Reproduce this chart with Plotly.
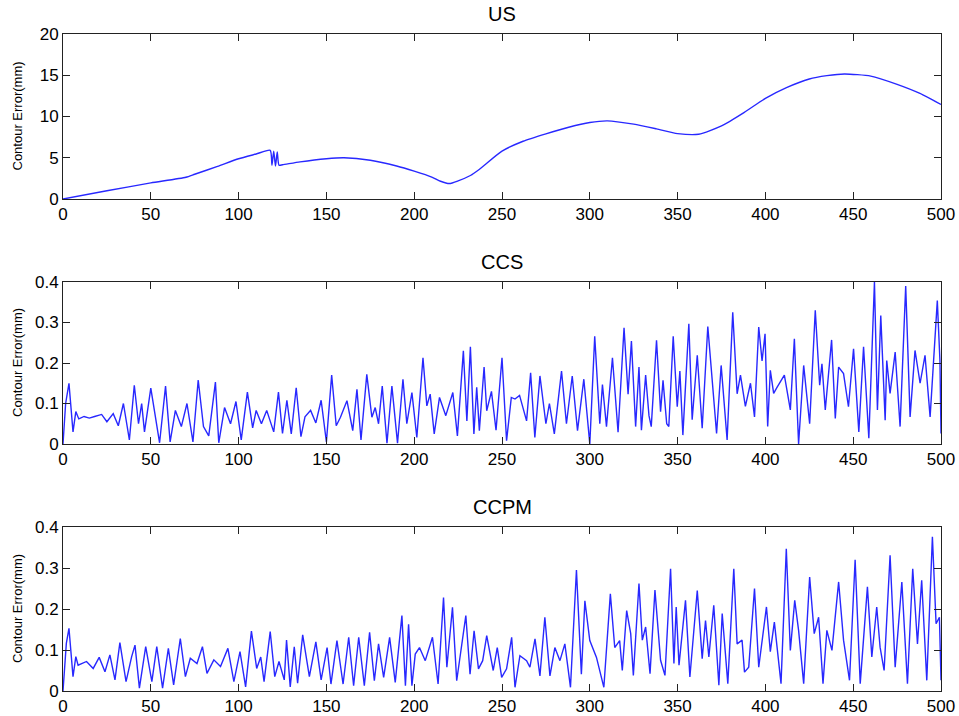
import plotly.graph_objects as go

# ---- US: contour error without compensation ----
us_x = [0, 25, 50, 70, 75, 88, 100, 110, 118, 119, 120, 121, 122, 123, 125, 135, 150, 160,
        175, 190, 200, 210, 215, 220, 225, 232, 237, 250, 262, 275, 288, 300, 310, 325, 338,
        350, 362, 375, 388, 400, 412, 425, 435, 445, 460, 475, 488, 500]
us_y = [0, 1.0, 1.95, 2.64, 3.0, 3.95, 4.88, 5.45, 5.9, 4.1, 5.8, 4.0, 5.7, 4.1, 4.15, 4.5,
        4.88, 5.0, 4.7, 4.0, 3.37, 2.65, 2.15, 1.87, 2.2, 2.85, 3.58, 5.8, 7.0, 7.9, 8.7, 9.27,
        9.47, 9.07, 8.5, 7.93, 7.85, 8.86, 10.5, 12.2, 13.5, 14.55, 14.95, 15.16, 14.9, 13.9,
        12.8, 11.46]

# ---- CCS: cross-coupled control ----
ccs_x = [0, 1.5, 3.4, 5.7, 7.3, 9, 12, 15, 18, 22, 25, 28.6, 31.5, 34.4, 37.8, 40.6, 43, 44.8,
         46.4, 50, 55, 58.4, 61, 64, 67.4, 70.6, 74, 77, 80, 83, 86.8, 88.7, 92, 95.4, 98.5,
         101.5, 105, 108, 110, 113, 116, 120, 122.7, 125, 127.5, 130, 132.8, 135.5, 137.8, 141,
         144, 147, 150, 153, 155.6, 158, 161.7, 165, 167.4, 169.7, 173, 175.9, 177.8, 179.7,
         181.8, 184.5, 187.3, 190.5, 193.6, 195.8, 198.7, 201.5, 205, 207.2, 209.1, 211.4,
         214.4, 218, 222, 224.6, 228, 230, 232, 234, 235.6, 237.1, 239.8, 241.3, 244, 246.6,
         250, 252.6, 255.3, 257.4, 260, 264, 266.3, 268.7, 271.6, 275, 277, 279.8, 283.9,
         286.7, 290, 293, 296.6, 300, 302.8, 305.7, 307.2, 309.5, 312.9, 316.1, 319.5, 321.8,
         323.7, 326.1, 328, 329.4, 331.8, 333.7, 335, 338, 340.3, 341.7, 343.8, 345, 347.5,
         349.8, 351.3, 353, 356.4, 358.3, 361.2, 364, 367.2, 368.8, 370.6, 372.2, 374.8,
         378.2, 381.4, 383.9, 385.8, 388.6, 391.5, 393.8, 396.2, 398.1, 399.8, 401.3, 402.8,
         404.7, 406.6, 410.8, 414.2, 416.5, 418.9, 421.8, 425.2, 428.4, 430.9, 432.2, 434.1,
         437.7, 439.8, 441.7, 444.5, 447.3, 450.2, 453.2, 455.9, 458.9, 462.1, 463.8, 465.7,
         468.2, 469.1, 471, 473.9, 476.7, 479.9, 482.4, 485.2, 488.1, 490.9, 493.8, 497.9,
         499.4, 500]
ccs_y = [0, 0.1, 0.15, 0.03, 0.08, 0.062, 0.068, 0.064, 0.068, 0.073, 0.055, 0.075, 0.045,
         0.1, 0.01, 0.145, 0.05, 0.1, 0.03, 0.138, 0.003, 0.143, 0.005, 0.083, 0.043, 0.1,
         0.005, 0.158, 0.043, 0.02, 0.153, 0.003, 0.09, 0.05, 0.105, 0.01, 0.128, 0.04, 0.083,
         0.05, 0.083, 0.03, 0.128, 0.026, 0.108, 0.025, 0.139, 0.018, 0.067, 0.083, 0.052,
         0.108, 0.005, 0.17, 0.045, 0.066, 0.107, 0.033, 0.135, 0.01, 0.172, 0.066, 0.09, 0.05,
         0.143, 0.002, 0.143, 0.002, 0.16, 0.05, 0.127, 0.016, 0.213, 0.094, 0.123, 0.025,
         0.115, 0.07, 0.127, 0.02, 0.23, 0.057, 0.24, 0.025, 0.14, 0.033, 0.19, 0.082, 0.13,
         0.034, 0.213, 0.008, 0.115, 0.111, 0.12, 0.057, 0.176, 0.016, 0.168, 0.05, 0.1, 0.025,
         0.18, 0.05, 0.168, 0.033, 0.16, 0.0, 0.266, 0.05, 0.147, 0.043, 0.213, 0.029, 0.287,
         0.123, 0.254, 0.043, 0.19, 0.034, 0.17, 0.07, 0.043, 0.256, 0.08, 0.157, 0.05, 0.043,
         0.266, 0.092, 0.18, 0.022, 0.297, 0.06, 0.219, 0.039, 0.29, 0.207, 0.128, 0.026,
         0.194, 0.01, 0.325, 0.124, 0.17, 0.093, 0.15, 0.067, 0.289, 0.205, 0.272, 0.043,
         0.182, 0.125, 0.14, 0.17, 0.084, 0.26, 0.0, 0.194, 0.05, 0.33, 0.145, 0.198, 0.084,
         0.257, 0.063, 0.19, 0.174, 0.092, 0.235, 0.03, 0.24, 0.014, 0.4, 0.084, 0.317, 0.059,
         0.206, 0.125, 0.227, 0.043, 0.39, 0.067, 0.231, 0.15, 0.219, 0.067, 0.354, 0.205,
         0.026]

# ---- CCPM: cross-coupled pre-compensation method ----
ccpm_x = [0, 1.9, 3.4, 5.7, 7.3, 8.6, 13.4, 17.2, 20.6, 23.9, 26.7, 29.6, 32.4, 35.9, 39.1,
          41, 43.5, 47.1, 50.6, 53.4, 56.7, 60, 63, 66.8, 69.7, 72.5, 76.3, 79.4, 82, 85.9,
          89.7, 93.9, 97.3, 100.8, 104, 107.3, 110.3, 112.6, 114.5, 118, 120.6, 123, 126,
          127.3, 129.4, 131.7, 133.6, 136.5, 140.3, 144, 147, 150.4, 152.6, 156, 159.5, 162.7,
          165.5, 168.4, 171.6, 174.6, 177.3, 179.7, 182.6, 186, 189.2, 193, 195, 196.8, 198.7,
          200.6, 203, 206.3, 210.4, 213.6, 216.7, 218.6, 221.8, 224.2, 229.4, 231.8, 234.1,
          236.6, 239, 241.3, 245, 247.3, 249.8, 252.6, 255.5, 257.4, 260.2, 264, 265.9, 268.8,
          271.6, 274.4, 277.3, 280.1, 283, 285.8, 289, 292.4, 295.2, 297.2, 300, 303.8, 308,
          311.7, 314.2, 317, 318.5, 321, 323.3, 324.8, 328, 329.9, 331.8, 334.3, 337.1, 340.3,
          342.8, 346, 347.9, 349.2, 350.8, 354.5, 357, 361.2, 364, 365.9, 367.8, 370.6, 373.5,
          375.4, 378.6, 382, 383.9, 386.7, 388.1, 390.5, 393.8, 396.2, 400.6, 402.8, 405.1,
          408.9, 411.9, 414.2, 416.7, 418.9, 421.8, 425.2, 427.8, 430.3, 432.8, 435, 437.9,
          441.7, 444.5, 447.9, 451.1, 454, 458.1, 460.6, 463.4, 465.3, 467.6, 471, 473.9,
          477.7, 480.9, 483.9, 486.6, 489, 491.9, 495.1, 497.2, 499.1, 500]
ccpm_y = [0, 0.116, 0.153, 0.035, 0.084, 0.063, 0.072, 0.055, 0.082, 0.047, 0.088, 0.027,
          0.118, 0.023, 0.084, 0.112, 0.007, 0.108, 0.023, 0.108, 0.007, 0.104, 0.015, 0.128,
          0.035, 0.08, 0.067, 0.108, 0.043, 0.076, 0.06, 0.104, 0.023, 0.096, 0.01, 0.146,
          0.055, 0.083, 0.023, 0.145, 0.035, 0.072, 0.027, 0.124, 0.01, 0.108, 0.019, 0.137,
          0.035, 0.12, 0.027, 0.106, 0.017, 0.123, 0.017, 0.131, 0.013, 0.131, 0.013, 0.143,
          0.025, 0.115, 0.033, 0.131, 0.021, 0.184, 0.013, 0.163, 0.013, 0.09, 0.106, 0.074,
          0.131, 0.017, 0.228, 0.058, 0.204, 0.025, 0.184, 0.041, 0.147, 0.054, 0.074, 0.135,
          0.05, 0.106, 0.033, 0.054, 0.131, 0.009, 0.086, 0.074, 0.058, 0.127, 0.037, 0.18,
          0.037, 0.106, 0.074, 0.115, 0.009, 0.295, 0.041, 0.22, 0.123, 0.082, 0.009, 0.237,
          0.106, 0.123, 0.05, 0.196, 0.14, 0.038, 0.262, 0.124, 0.156, 0.042, 0.246, 0.075,
          0.038, 0.298, 0.067, 0.205, 0.063, 0.221, 0.034, 0.245, 0.079, 0.172, 0.083, 0.209,
          0.014, 0.189, 0.018, 0.298, 0.115, 0.124, 0.046, 0.058, 0.25, 0.058, 0.205, 0.096,
          0.168, 0.018, 0.347, 0.099, 0.221, 0.148, 0.018, 0.278, 0.14, 0.18, 0.018, 0.148,
          0.099, 0.266, 0.124, 0.026, 0.32, 0.018, 0.254, 0.083, 0.205, 0.107, 0.05, 0.331,
          0.058, 0.266, 0.018, 0.298, 0.115, 0.27, 0.026, 0.376, 0.164, 0.18, 0.026]

panel_titles = ["US", "CCS", "CCPM"]
y_title = "Contour Error(mm)"
x_ticks = [0, 50, 100, 150, 200, 250, 300, 350, 400, 450, 500]
y_ticks_us = [0, 5, 10, 15, 20]
y_ticks_small = [0, 0.1, 0.2, 0.3, 0.4]

W, H = 959, 716
LINE = "rgb(40,40,255)"
FONT = "Liberation Sans, Arial, sans-serif"

# plot-area pixel boxes (left, right, top, bottom)
left_px, right_px = 63, 941
rows_px = [(34, 199), (282, 444), (527, 691)]

fig = go.Figure()
series = [(us_x, us_y), (ccs_x, ccs_y), (ccpm_x, ccpm_y)]
for i, (xs, ys) in enumerate(series):
    suffix = "" if i == 0 else str(i + 1)
    fig.add_trace(go.Scatter(x=xs, y=ys, mode="lines",
                             line=dict(color=LINE, width=1.4,
                                       shape="spline" if i == 0 else "linear",
                                       smoothing=0.6 if i == 0 else 0),
                             xaxis="x" + suffix, yaxis="y" + suffix,
                             showlegend=False, hoverinfo="skip"))

axis_common = dict(showgrid=False, zeroline=False, showline=True, linecolor="#222",
                   linewidth=1, mirror="allticks", ticks="inside", ticklen=7,
                   tickcolor="#222", automargin=False,
                   tickfont=dict(family=FONT, size=17, color="black"))

layout = dict(template="none", width=W, height=H, margin=dict(l=0, r=0, t=0, b=0),
              paper_bgcolor="white", plot_bgcolor="white", annotations=[])

for i, (top, bot) in enumerate(rows_px):
    suffix = "" if i == 0 else str(i + 1)
    ydom = [(H - bot) / H, (H - top) / H]
    xdom = [left_px / W, right_px / W]
    layout["xaxis" + suffix] = dict(axis_common, domain=xdom, range=[0, 500],
                                    tickvals=x_ticks, ticktext=[str(v) for v in x_ticks],
                                    anchor="y" + suffix)
    if i == 0:
        yv, yr, yt = y_ticks_us, [0, 20], [str(v) for v in y_ticks_us]
    else:
        yv, yr, yt = y_ticks_small, [0, 0.4], ["0", "0.1", "0.2", "0.3", "0.4"]
    layout["yaxis" + suffix] = dict(axis_common, domain=ydom, range=yr, tickvals=yv,
                                    ticktext=yt, anchor="x" + suffix)
    # panel title
    layout["annotations"].append(dict(
        text=panel_titles[i], xref="paper", yref="paper",
        x=(left_px + right_px) / 2 / W, y=(H - top + 7) / H,
        xanchor="center", yanchor="bottom", showarrow=False,
        font=dict(family=FONT, size=20, color="black")))
    # y-axis title
    layout["annotations"].append(dict(
        text=y_title, xref="paper", yref="paper",
        x=17 / W, y=(H - (top + bot) / 2) / H, xanchor="center", yanchor="middle",
        textangle=-90, showarrow=False,
        font=dict(family=FONT, size=13, color="black")))

fig.update_layout(**layout)
fig.write_html("out.html")
